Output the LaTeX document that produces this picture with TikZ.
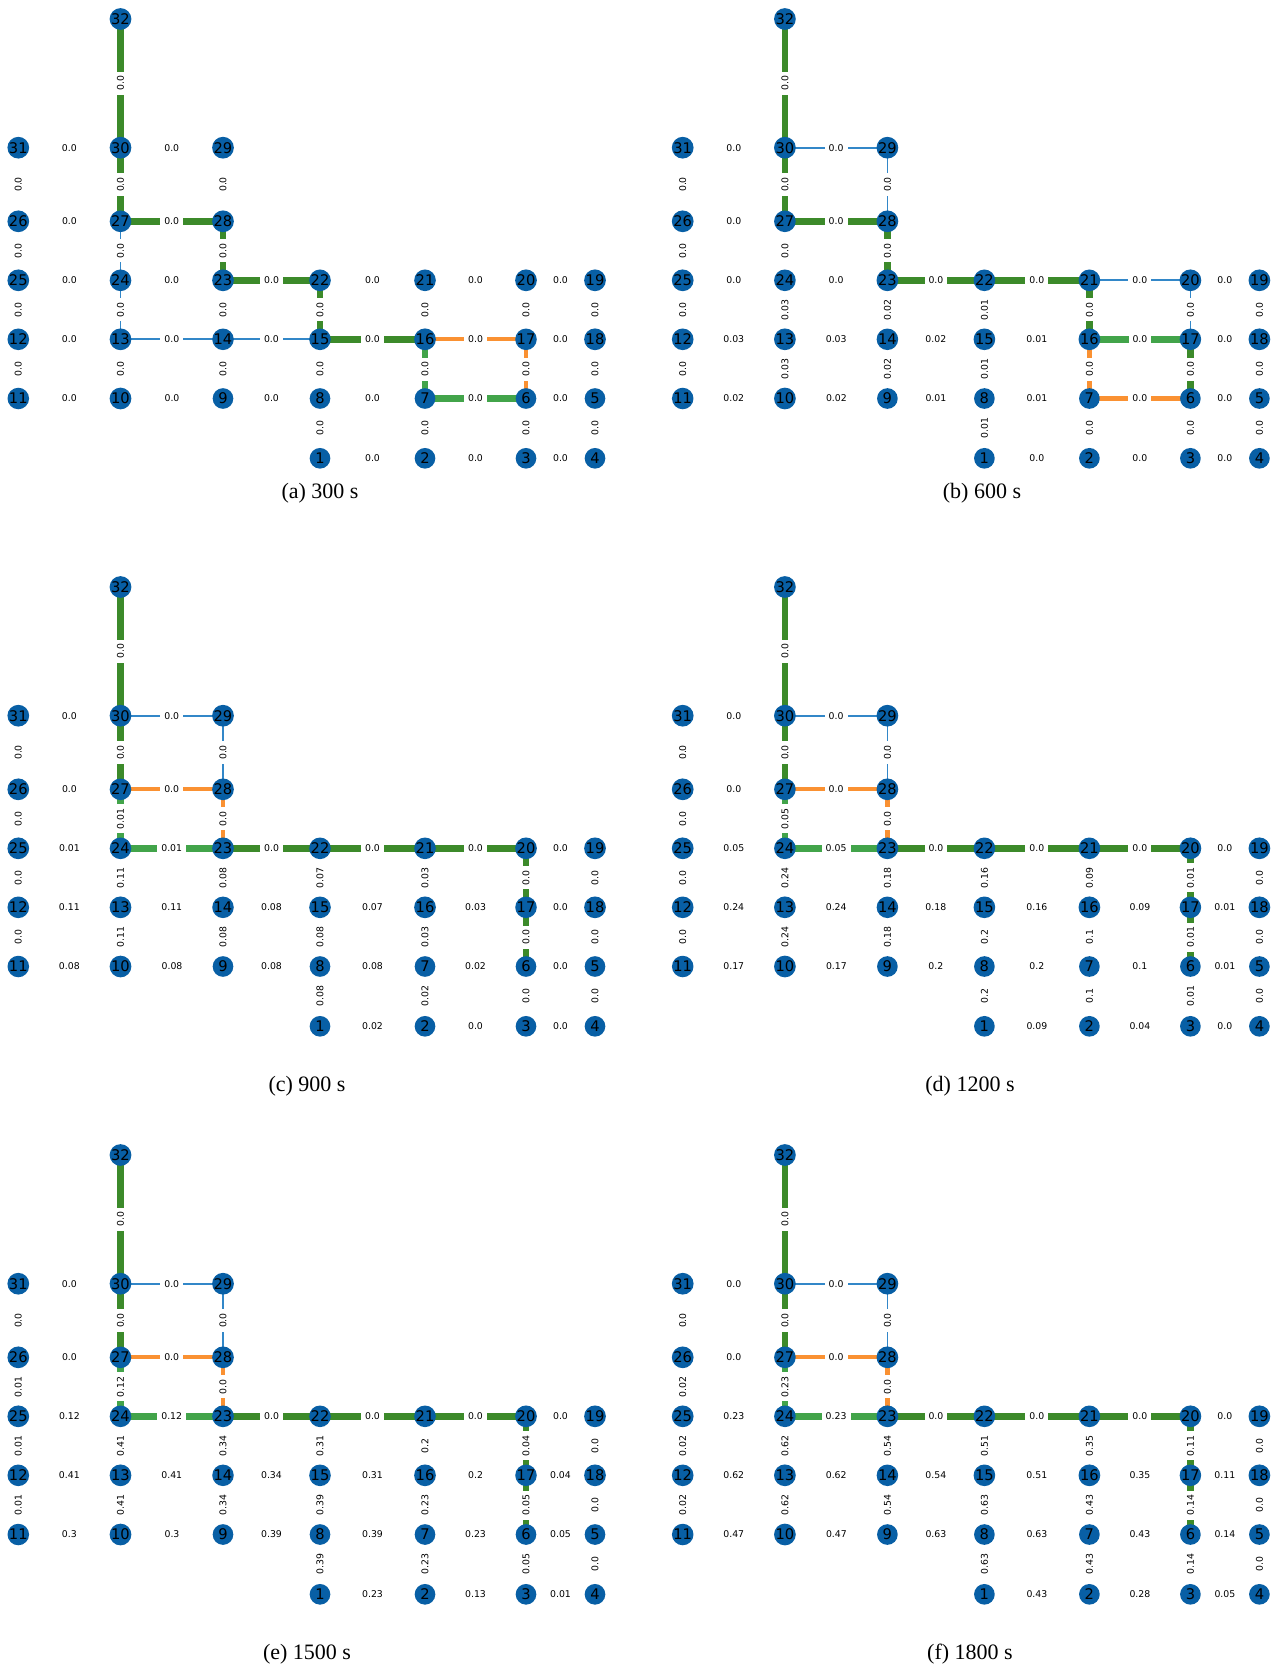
\documentclass[tikz,border=0pt]{standalone}
\usepackage{fontspec}
\setmainfont{Liberation Serif}
\newfontfamily\dvsans{DejaVu Sans}
\usetikzlibrary{backgrounds}
\definecolor{vblue}{RGB}{8,95,165}
\definecolor{gdark}{RGB}{60,138,42}
\definecolor{glight}{RGB}{66,164,74}
\definecolor{eorange}{RGB}{250,145,50}
\definecolor{eblue}{RGB}{50,135,200}
\tikzset{
  vx/.style={circle,fill=vblue,minimum size=15.5pt,inner sep=0pt,
             font=\dvsans\fontsize{11}{11}\selectfont},
  wt/.style={fill=white,inner xsep=3pt,inner ysep=1.2pt,
             font=\dvsans\fontsize{7}{8}\selectfont},
  wth/.style={wt},                 % label of a row edge
  wtv/.style={wt,rotate=90},       % label of a column edge
  gd/.style={draw=gdark,line width=4.9pt},
  gl/.style={draw=glight,line width=4.9pt},
  og/.style={draw=eorange,line width=3.2pt},
  bl/.style={draw=eblue,line width=1.35pt},
  capt/.style={font=\fontsize{16.5}{19}\selectfont}
}
% vertex / x / y (px, upper left panel)
\newcommand{\vertices}{32/120.5/19,
  31/18.3/147.7, 30/120.5/147.7, 29/223/147.7,
  26/18.3/221.3, 27/120.5/221.3, 28/223/221.3,
  25/18.3/280.3, 24/120.5/280.3, 23/223/280.3, 22/320/280.3, 21/425/280.3, 20/526/280.3, 19/595/280.3,
  12/18.3/339.3, 13/120.5/339.3, 14/223/339.3, 15/320/339.3, 16/425/339.3, 17/526/339.3, 18/595/339.3,
  11/18.3/398.5, 10/120.5/398.5, 9/223/398.5, 8/320/398.5, 7/425/398.5, 6/526/398.5, 5/595/398.5,
  1/320/458.3, 2/425/458.3, 3/526/458.3, 4/595/458.3}
% #1,#2 shift  #3 prefix  #4 drawn edges  #5 row labels  #6 column labels
\newcommand{\panel}[6]{%
  \begin{scope}[shift={(#1,#2)}]
    \foreach \vn/\vxx/\vyy in \vertices
      \node[vx] (#3\vn) at (\vxx,\vyy) {\vn};
    \begin{scope}[on background layer]
      \foreach \u/\w/\s in {#4}
        \path[\s] (#3\u.center) -- (#3\w.center);
    \end{scope}
    \foreach \u/\w/\v in {#5}
      \path (#3\u) -- node[wth]{\v} (#3\w);
    \foreach \u/\w/\v in {#6}
      \path (#3\u) -- node[wtv]{\v} (#3\w);
  \end{scope}}

\begin{document}
\begin{tikzpicture}[x=0.75pt,y=-0.75pt]
  \useasboundingbox (0,0) rectangle (1279,1670);

  % (a) 300 s
  \panel{0}{0}{a}
    {32/30/gd, 30/27/gd, 27/28/gd, 28/23/gd, 23/22/gd, 22/15/gd, 15/16/gd,
     16/7/gl, 7/6/gl, 16/17/og, 17/6/og, 27/24/bl, 24/13/bl, 13/14/bl, 14/15/bl}
    {31/30/0.0, 30/29/0.0, 26/27/0.0, 27/28/0.0,
     25/24/0.0, 24/23/0.0, 23/22/0.0, 22/21/0.0, 21/20/0.0, 20/19/0.0,
     12/13/0.0, 13/14/0.0, 14/15/0.0, 15/16/0.0, 16/17/0.0, 17/18/0.0,
     11/10/0.0, 10/9/0.0, 9/8/0.0, 8/7/0.0, 7/6/0.0, 6/5/0.0,
     1/2/0.0, 2/3/0.0, 3/4/0.0}
    {32/30/0.0, 31/26/0.0, 30/27/0.0, 29/28/0.0, 26/25/0.0, 27/24/0.0, 28/23/0.0,
     25/12/0.0, 24/13/0.0, 23/14/0.0, 22/15/0.0, 21/16/0.0, 20/17/0.0, 19/18/0.0,
     12/11/0.0, 13/10/0.0, 14/9/0.0, 15/8/0.0, 16/7/0.0, 17/6/0.0, 18/5/0.0,
     8/1/0.0, 7/2/0.0, 6/3/0.0, 5/4/0.0}

  % (b) 600 s
  \panel{664.4}{0}{b}
    {32/30/gd, 30/27/gd, 27/28/gd, 28/23/gd, 23/22/gd, 22/21/gd, 21/16/gd, 17/6/gd,
     16/17/gl, 16/7/og, 7/6/og, 30/29/bl, 29/28/bl, 21/20/bl, 20/17/bl}
    {31/30/0.0, 30/29/0.0, 26/27/0.0, 27/28/0.0,
     25/24/0.0, 24/23/0.0, 23/22/0.0, 22/21/0.0, 21/20/0.0, 20/19/0.0,
     12/13/0.03, 13/14/0.03, 14/15/0.02, 15/16/0.01, 16/17/0.0, 17/18/0.0,
     11/10/0.02, 10/9/0.02, 9/8/0.01, 8/7/0.01, 7/6/0.0, 6/5/0.0,
     1/2/0.0, 2/3/0.0, 3/4/0.0}
    {32/30/0.0, 31/26/0.0, 30/27/0.0, 29/28/0.0, 26/25/0.0, 27/24/0.0, 28/23/0.0,
     25/12/0.0, 24/13/0.03, 23/14/0.02, 22/15/0.01, 21/16/0.0, 20/17/0.0, 19/18/0.0,
     12/11/0.0, 13/10/0.03, 14/9/0.02, 15/8/0.01, 16/7/0.0, 17/6/0.0, 18/5/0.0,
     8/1/0.01, 7/2/0.0, 6/3/0.0, 5/4/0.0}

  % (c) 900 s
  \panel{0}{568}{c}
    {32/30/gd, 30/27/gd, 23/22/gd, 22/21/gd, 21/20/gd, 20/17/gd, 17/6/gd,
     27/24/gl, 24/23/gl, 27/28/og, 28/23/og, 30/29/bl, 29/28/bl}
    {31/30/0.0, 30/29/0.0, 26/27/0.0, 27/28/0.0,
     25/24/0.01, 24/23/0.01, 23/22/0.0, 22/21/0.0, 21/20/0.0, 20/19/0.0,
     12/13/0.11, 13/14/0.11, 14/15/0.08, 15/16/0.07, 16/17/0.03, 17/18/0.0,
     11/10/0.08, 10/9/0.08, 9/8/0.08, 8/7/0.08, 7/6/0.02, 6/5/0.0,
     1/2/0.02, 2/3/0.0, 3/4/0.0}
    {32/30/0.0, 31/26/0.0, 30/27/0.0, 29/28/0.0, 26/25/0.0, 27/24/0.01, 28/23/0.0,
     25/12/0.0, 24/13/0.11, 23/14/0.08, 22/15/0.07, 21/16/0.03, 20/17/0.0, 19/18/0.0,
     12/11/0.0, 13/10/0.11, 14/9/0.08, 15/8/0.08, 16/7/0.03, 17/6/0.0, 18/5/0.0,
     8/1/0.08, 7/2/0.02, 6/3/0.0, 5/4/0.0}

  % (d) 1200 s
  \panel{664.4}{568}{d}
    {32/30/gd, 30/27/gd, 23/22/gd, 22/21/gd, 21/20/gd, 20/17/gd, 17/6/gd,
     27/24/gl, 24/23/gl, 27/28/og, 28/23/og, 30/29/bl, 29/28/bl}
    {31/30/0.0, 30/29/0.0, 26/27/0.0, 27/28/0.0,
     25/24/0.05, 24/23/0.05, 23/22/0.0, 22/21/0.0, 21/20/0.0, 20/19/0.0,
     12/13/0.24, 13/14/0.24, 14/15/0.18, 15/16/0.16, 16/17/0.09, 17/18/0.01,
     11/10/0.17, 10/9/0.17, 9/8/0.2, 8/7/0.2, 7/6/0.1, 6/5/0.01,
     1/2/0.09, 2/3/0.04, 3/4/0.0}
    {32/30/0.0, 31/26/0.0, 30/27/0.0, 29/28/0.0, 26/25/0.0, 27/24/0.05, 28/23/0.0,
     25/12/0.0, 24/13/0.24, 23/14/0.18, 22/15/0.16, 21/16/0.09, 20/17/0.01, 19/18/0.0,
     12/11/0.0, 13/10/0.24, 14/9/0.18, 15/8/0.2, 16/7/0.1, 17/6/0.01, 18/5/0.0,
     8/1/0.2, 7/2/0.1, 6/3/0.01, 5/4/0.0}

  % (e) 1500 s
  \panel{0}{1136}{e}
    {32/30/gd, 30/27/gd, 23/22/gd, 22/21/gd, 21/20/gd, 20/17/gd, 17/6/gd,
     27/24/gl, 24/23/gl, 27/28/og, 28/23/og, 30/29/bl, 29/28/bl}
    {31/30/0.0, 30/29/0.0, 26/27/0.0, 27/28/0.0,
     25/24/0.12, 24/23/0.12, 23/22/0.0, 22/21/0.0, 21/20/0.0, 20/19/0.0,
     12/13/0.41, 13/14/0.41, 14/15/0.34, 15/16/0.31, 16/17/0.2, 17/18/0.04,
     11/10/0.3, 10/9/0.3, 9/8/0.39, 8/7/0.39, 7/6/0.23, 6/5/0.05,
     1/2/0.23, 2/3/0.13, 3/4/0.01}
    {32/30/0.0, 31/26/0.0, 30/27/0.0, 29/28/0.0, 26/25/0.01, 27/24/0.12, 28/23/0.0,
     25/12/0.01, 24/13/0.41, 23/14/0.34, 22/15/0.31, 21/16/0.2, 20/17/0.04, 19/18/0.0,
     12/11/0.01, 13/10/0.41, 14/9/0.34, 15/8/0.39, 16/7/0.23, 17/6/0.05, 18/5/0.0,
     8/1/0.39, 7/2/0.23, 6/3/0.05, 5/4/0.0}

  % (f) 1800 s
  \panel{664.4}{1136}{f}
    {32/30/gd, 30/27/gd, 23/22/gd, 22/21/gd, 21/20/gd, 20/17/gd, 17/6/gd,
     27/24/gl, 24/23/gl, 27/28/og, 28/23/og, 30/29/bl, 29/28/bl}
    {31/30/0.0, 30/29/0.0, 26/27/0.0, 27/28/0.0,
     25/24/0.23, 24/23/0.23, 23/22/0.0, 22/21/0.0, 21/20/0.0, 20/19/0.0,
     12/13/0.62, 13/14/0.62, 14/15/0.54, 15/16/0.51, 16/17/0.35, 17/18/0.11,
     11/10/0.47, 10/9/0.47, 9/8/0.63, 8/7/0.63, 7/6/0.43, 6/5/0.14,
     1/2/0.43, 2/3/0.28, 3/4/0.05}
    {32/30/0.0, 31/26/0.0, 30/27/0.0, 29/28/0.0, 26/25/0.02, 27/24/0.23, 28/23/0.0,
     25/12/0.02, 24/13/0.62, 23/14/0.54, 22/15/0.51, 21/16/0.35, 20/17/0.11, 19/18/0.0,
     12/11/0.02, 13/10/0.62, 14/9/0.54, 15/8/0.63, 16/7/0.43, 17/6/0.14, 18/5/0.0,
     8/1/0.63, 7/2/0.43, 6/3/0.14, 5/4/0.0}

  % captions
  \node[capt] (capa) at (320,493)  {(a) 300 s};
  \node[capt] (capb) at (982,493)  {(b) 600 s};
  \node[capt] (capc) at (307,1086) {(c) 900 s};
  \node[capt] (capd) at (970,1086) {(d) 1200 s};
  \node[capt] (cape) at (307,1654) {(e) 1500 s};
  \node[capt] (capf) at (970,1654) {(f) 1800 s};
\end{tikzpicture}
\end{document}
